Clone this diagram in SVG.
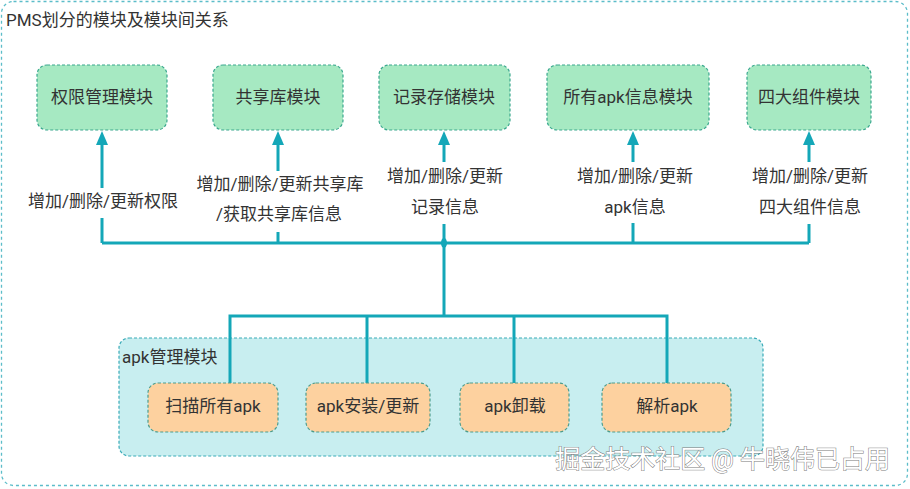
<svg xmlns="http://www.w3.org/2000/svg" width="910" height="489" viewBox="0 0 910 489">
<defs>
<style>
text{font-family:Roboto,"Noto Sans CJK SC",sans-serif;font-size:17px;fill:#333;}
.c{text-anchor:middle;dominant-baseline:central;}
.green{fill:#a6e9c2;stroke:#3aa88e;stroke-width:1.2;stroke-dasharray:3 2;}
.orange{fill:#fdd19f;stroke:#4e9c8c;stroke-width:1.2;stroke-dasharray:3 2;}
.wire{fill:none;stroke:#14a7b8;stroke-width:3;}
.head{fill:#14a7b8;}
</style>
</defs>
<rect width="910" height="489" fill="#fff"/>
<g id="container">
<rect x="1.5" y="1.5" width="906" height="484" rx="12" fill="#fff" stroke="#5cbdc9" stroke-width="1.3" stroke-dasharray="3 3"/>
<text x="6" y="20" style="dominant-baseline:central">PMS划分的模块及模块间关系</text>
</g>
<g id="apk-group">
<rect x="119" y="338" width="644" height="118" rx="10" fill="#c8eef0" stroke="#3aabb8" stroke-width="1.2" stroke-dasharray="3 2"/>
<text x="122" y="357" style="dominant-baseline:central">apk管理模块</text>
</g>
<g id="connectors">
<path class="wire" d="M102,243 V218 M102,188 V143"/>
<path class="wire" d="M278,243 V232 M278,171 V143"/>
<path class="wire" d="M444,243 V224 M444,162 V143"/>
<path class="wire" d="M633,243 V223 M633,162 V143"/>
<path class="wire" d="M809,243 V224 M809,162 V143"/>
<polygon class="head" points="102,131 108,145 96,145"/>
<polygon class="head" points="278,131 284,145 272,145"/>
<polygon class="head" points="444,131 450,145 438,145"/>
<polygon class="head" points="633,131 639,145 627,145"/>
<polygon class="head" points="809,131 815,145 803,145"/>
<path class="wire" d="M102,243 H809"/>
<ellipse cx="444" cy="243" rx="3" ry="5" fill="#14a7b8"/>
<path class="wire" d="M444,243 V316 M230,383 V316 H667 V383 M367,316 V383 M514,316 V383"/>
<text class="c" x="103" y="201">增加/删除/更新权限</text>
<text class="c" x="280" y="184">增加/删除/更新共享库</text>
<text class="c" x="279" y="214">/获取共享库信息</text>
<text class="c" x="445" y="176">增加/删除/更新</text>
<text class="c" x="445" y="207">记录信息</text>
<text class="c" x="635" y="176">增加/删除/更新</text>
<text class="c" x="635" y="207">apk信息</text>
<text class="c" x="810" y="176">增加/删除/更新</text>
<text class="c" x="810" y="207">四大组件信息</text>
</g>
<g id="node-permission"><rect class="green" x="37" y="65" width="130" height="65" rx="10"/><text class="c" x="102" y="97">权限管理模块</text></g>
<g id="node-sharedlib"><rect class="green" x="213" y="65" width="130" height="65" rx="10"/><text class="c" x="278" y="97">共享库模块</text></g>
<g id="node-record"><rect class="green" x="379" y="65" width="131" height="65" rx="10"/><text class="c" x="444" y="97">记录存储模块</text></g>
<g id="node-apkinfo"><rect class="green" x="547" y="65" width="162" height="65" rx="10"/><text class="c" x="628" y="97">所有apk信息模块</text></g>
<g id="node-components"><rect class="green" x="747" y="65" width="124" height="65" rx="10"/><text class="c" x="809" y="97">四大组件模块</text></g>
<g id="node-scan"><rect class="orange" x="148" y="383" width="130" height="49" rx="10"/><text class="c" x="213" y="406">扫描所有apk</text></g>
<g id="node-install"><rect class="orange" x="306" y="383" width="124" height="49" rx="10"/><text class="c" x="368" y="406">apk安装/更新</text></g>
<g id="node-uninstall"><rect class="orange" x="460" y="383" width="109" height="49" rx="10"/><text class="c" x="515" y="406">apk卸载</text></g>
<g id="node-parse"><rect class="orange" x="602" y="383" width="129" height="49" rx="10"/><text class="c" x="667" y="406">解析apk</text></g>
<g id="watermark">
<text x="890" y="468" style="text-anchor:end;font-size:25px;fill:#fff;stroke:#7a7a7a;stroke-width:1;paint-order:stroke">掘金技术社区 @ 牛晓伟已占用</text>
</g>
</svg>
